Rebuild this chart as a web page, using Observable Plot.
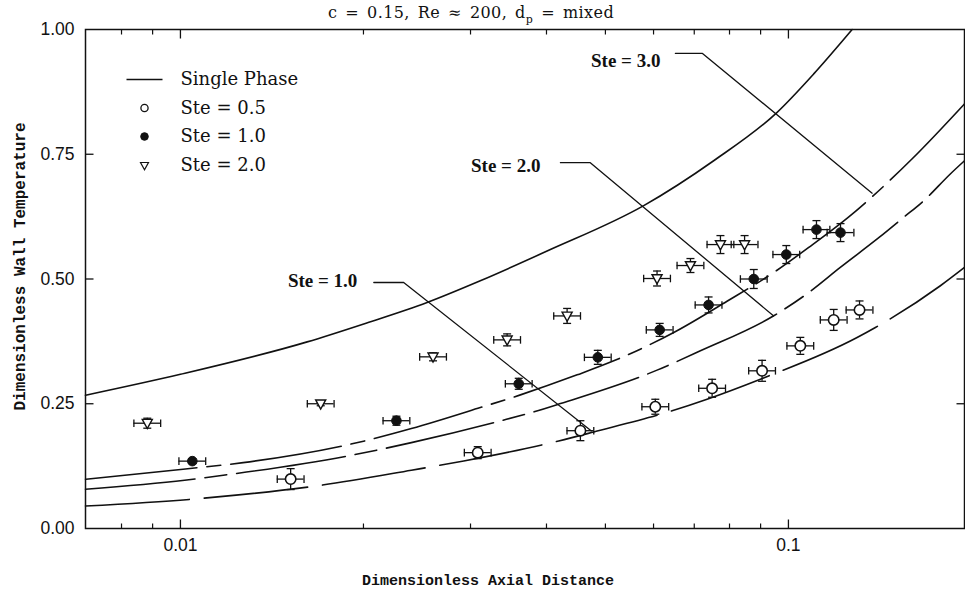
<!DOCTYPE html>
<html>
<head>
<meta charset="utf-8">
<script src="https://cdn.jsdelivr.net/npm/d3@7"></script>
<script src="https://cdn.jsdelivr.net/npm/@observablehq/plot@0.6"></script>
<style>
  html, body { margin: 0; padding: 0; background: #fff; }
  #chart svg { display: block; }
</style>
</head>
<body>
<div id="chart"></div>
<script>
// ---- Predicted wall temperature curves ----
const singlePhaseX = [0.00698, 0.01, 0.01616, 0.02002, 0.02545, 0.03113, 0.04009, 0.05781, 0.07534, 0.09581, 0.11006, 0.1273];
const singlePhaseY = [0.267, 0.309, 0.374, 0.41, 0.453, 0.4965, 0.556, 0.647, 0.737, 0.834, 0.911, 1.0];

const ste30X = [0.00698, 0.0101, 0.01268, 0.02009, 0.02398, 0.03113, 0.03624, 0.04493, 0.0516, 0.06477, 0.07925, 0.09459, 0.108, 0.1254, 0.1598, 0.1948];
const ste30Y = [0.0987, 0.1188, 0.132, 0.1755, 0.2002, 0.2423, 0.2678, 0.3079, 0.336, 0.3928, 0.4554, 0.5131, 0.5633, 0.6235, 0.741, 0.851];

const ste20X = [0.00698, 0.01016, 0.01176, 0.01923, 0.02398, 0.0336, 0.03813, 0.04217, 0.06081, 0.07165, 0.09459, 0.108, 0.1217, 0.1408, 0.1547, 0.167, 0.1846, 0.1948];
const ste20Y = [0.0786, 0.0967, 0.1067, 0.1474, 0.1721, 0.2156, 0.2337, 0.2503, 0.3174, 0.3561, 0.4263, 0.473, 0.5232, 0.5827, 0.6235, 0.657, 0.7105, 0.737];

const ste10X = [0.00698, 0.01042, 0.01117, 0.01674, 0.02398, 0.02924, 0.0419, 0.04784, 0.06437, 0.07348, 0.08993, 0.1297, 0.139, 0.1778, 0.1948];
const ste10Y = [0.0451, 0.0586, 0.0618, 0.0853, 0.1168, 0.1354, 0.1755, 0.1935, 0.236, 0.2592, 0.2993, 0.3827, 0.4028, 0.4865, 0.5232];

// ---- Measurements (value and vertical uncertainty) ----
const dataSte05X = [0.01518, 0.03083, 0.04548, 0.0604, 0.0749, 0.0905, 0.1046, 0.1187, 0.1309];
const dataSte05Y = [0.099, 0.152, 0.196, 0.244, 0.281, 0.316, 0.366, 0.418, 0.438];
const dataSte05Err = [0.021, 0.012, 0.02, 0.015, 0.018, 0.021, 0.017, 0.021, 0.018];

const dataSte10X = [0.01046, 0.02266, 0.03601, 0.04858, 0.06141, 0.0739, 0.0877, 0.0992, 0.1112, 0.1218];
const dataSte10Y = [0.135, 0.216, 0.29, 0.343, 0.398, 0.448, 0.5, 0.549, 0.599, 0.593];
const dataSte10Err = [0.005, 0.009, 0.011, 0.014, 0.013, 0.016, 0.019, 0.018, 0.018, 0.018];

const dataSte20X = [0.00882, 0.01701, 0.02603, 0.03446, 0.04325, 0.0608, 0.069, 0.0773, 0.0847];
const dataSte20Y = [0.211, 0.25, 0.344, 0.378, 0.426, 0.501, 0.527, 0.569, 0.569];
const dataSte20Err = [0.01, 0.004, 0.008, 0.012, 0.015, 0.015, 0.014, 0.018, 0.018];

// relative uncertainty of the axial distance (multiplicative, symmetric in log space)
const xErrFactor = 1.052;

// ---- Curve labels with leader lines ----
const annotationLabels = ["Ste = 1.0", "Ste = 2.0", "Ste = 3.0"];
const annotationTextX = [0.01954, 0.03909, 0.06158];
const annotationTextY = [0.4965, 0.726, 0.937];
const leaderStartX = [0.0208, 0.04217, 0.06518];
const leaderBendX = [0.02329, 0.04722, 0.07222];
const leaderLevelY = [0.493, 0.7332, 0.952];
const leaderTargetX = [0.04742, 0.09447, 0.1373];
const leaderTargetY = [0.1956, 0.4263, 0.672];

// ---- Axes ----
const xMajorTicks = [0.01, 0.1];
const xMajorLabels = ["0.01", "0.1"];
const xMinorTicks = [0.008, 0.009, 0.02, 0.03, 0.04, 0.05, 0.06, 0.07, 0.08, 0.09];
const yTicks = [0, 0.25, 0.5, 0.75, 1];
const yTickLabels = ["0.00", "0.25", "0.50", "0.75", "1.00"];
const yInnerTicks = [0.25, 0.5, 0.75];

const titleMain = "c = 0.15, Re \u2248 200, d";
const titleSub = "p";
const titleTail = " = mixed";
const xTitle = "Dimensionless Axial Distance";
const yTitle = "Dimensionless Wall Temperature";
const legendLabels = ["Single Phase", "Ste = 0.5", "Ste = 1.0", "Ste = 2.0"];

// ---- Tables ----
const rows = (xs, ys) => xs.map((x, i) => ({x, y: ys[i]}));
const pts = (xs, ys, es) => xs.map((x, i) => ({x, y: ys[i], e: es[i]}));
const pts05 = pts(dataSte05X, dataSte05Y, dataSte05Err);
const pts10 = pts(dataSte10X, dataSte10Y, dataSte10Err);
const pts20 = pts(dataSte20X, dataSte20Y, dataSte20Err);
const allPts = [...pts05, ...pts10, ...pts20];

const annotations = annotationLabels.map((label, i) => ({label, x: annotationTextX[i], y: annotationTextY[i]}));
const leaders = annotationLabels.flatMap((label, i) => [
  {label, x: leaderStartX[i], y: leaderLevelY[i]},
  {label, x: leaderBendX[i], y: leaderLevelY[i]},
  {label, x: leaderTargetX[i], y: leaderTargetY[i]}
]);

// ---- Custom symbols (size = PI r^2) ----
const seg = (x1, y1, x2, y2) => ({
  draw(ctx, size) {
    const r = Math.sqrt(size / Math.PI);
    ctx.moveTo(x1 * r, y1 * r);
    ctx.lineTo(x2 * r, y2 * r);
  }
});
const tickUp = seg(0, 0, 0, -1);
const tickDown = seg(0, 0, 0, 1);
const tickRight = seg(0, 0, 1, 0);
const tickLeft = seg(0, 0, -1, 0);
const capV = seg(0, -1, 0, 1);
const capH = seg(-1, 0, 1, 0);
const triangleDown = {
  draw(ctx, size) {
    const r = Math.sqrt(size / Math.PI);
    ctx.moveTo(0, r);
    ctx.lineTo(-0.95 * r, -0.72 * r);
    ctx.lineTo(0.95 * r, -0.72 * r);
    ctx.closePath();
  }
};

const ink = "#111";
const curveStyle = {x: "x", y: "y", stroke: ink, strokeWidth: 1.6, curve: "monotone-x"};
const barStyle = {stroke: ink, strokeWidth: 1.3};
const serif = "DejaVu Serif";

const legendRowDy = [50, 78.5, 107, 136];
const legendSymbols = [
  {symbol: capH, r: 18, fill: "none", stroke: ink, strokeWidth: 1.3},
  {symbol: "circle", r: 3.6, fill: "#fff", stroke: ink, strokeWidth: 1.3},
  {symbol: "circle", r: 3.8, fill: ink, stroke: ink, strokeWidth: 1},
  {symbol: triangleDown, r: 4.2, fill: "#fff", stroke: ink, strokeWidth: 1.2}
];

const chart = Plot.plot({
  width: 965,
  height: 594,
  marginLeft: 85,
  marginRight: 1,
  marginTop: 29,
  marginBottom: 66,
  x: {type: "log", domain: [0.00698, 0.1948], axis: null},
  y: {domain: [0, 1], axis: null},
  style: {background: "#fff", color: ink, fontFamily: "Liberation Sans", overflow: "visible"},
  marks: [
    // predicted curves
    Plot.line(rows(singlePhaseX, singlePhaseY), curveStyle),
    Plot.line(rows(ste30X, ste30Y), {...curveStyle, strokeDasharray: "112,10,14,10"}),
    Plot.line(rows(ste20X, ste20Y), {...curveStyle, strokeDasharray: "110,10,22,10"}),
    Plot.line(rows(ste10X, ste10Y), {...curveStyle, strokeDasharray: "104,15"}),

    // leader lines for the curve labels
    Plot.line(leaders, {x: "x", y: "y", z: "label", stroke: ink, strokeWidth: 1.3}),
    Plot.text(annotations, {x: "x", y: "y", text: "label", textAnchor: "end", lineAnchor: "middle",
      fontFamily: "Liberation Serif", fontWeight: "bold", fontSize: 19, fill: ink}),

    // error bars
    Plot.ruleY(allPts, {y: "y", x1: d => d.x / xErrFactor, x2: d => d.x * xErrFactor, ...barStyle}),
    Plot.ruleX(allPts, {x: "x", y1: d => d.y - d.e, y2: d => d.y + d.e, ...barStyle}),
    Plot.dot(allPts, {x: d => d.x / xErrFactor, y: "y", symbol: capV, r: 3.8, fill: "none", ...barStyle}),
    Plot.dot(allPts, {x: d => d.x * xErrFactor, y: "y", symbol: capV, r: 3.8, fill: "none", ...barStyle}),
    Plot.dot(allPts, {x: "x", y: d => d.y - d.e, symbol: capH, r: 4, fill: "none", ...barStyle}),
    Plot.dot(allPts, {x: "x", y: d => d.y + d.e, symbol: capH, r: 4, fill: "none", ...barStyle}),

    // measurements
    Plot.dot(pts05, {x: "x", y: "y", symbol: "circle", r: 5.2, fill: "#fff", stroke: ink, strokeWidth: 1.6}),
    Plot.dot(pts10, {x: "x", y: "y", symbol: "circle", r: 4.8, fill: ink, stroke: ink, strokeWidth: 1}),
    Plot.dot(pts20, {x: "x", y: "y", symbol: triangleDown, r: 5.3, fill: "#fff", stroke: ink, strokeWidth: 1.4}),

    // legend
    ...legendLabels.flatMap((label, i) => [
      Plot.dot([label], {frameAnchor: "top-left", dx: 59, dy: legendRowDy[i], ...legendSymbols[i]}),
      Plot.text([label], {frameAnchor: "top-left", dx: 95, dy: legendRowDy[i], text: d => d,
        textAnchor: "start", lineAnchor: "middle", fontFamily: serif, fontSize: 18, fill: ink})
    ]),

    // frame and ticks
    Plot.frame({stroke: ink, strokeWidth: 1.5}),
    Plot.dot(xMajorTicks, {x: d => d, frameAnchor: "bottom", symbol: tickUp, r: 9, fill: "none", stroke: ink, strokeWidth: 1.3}),
    Plot.dot(xMinorTicks, {x: d => d, frameAnchor: "bottom", symbol: tickUp, r: 5, fill: "none", stroke: ink, strokeWidth: 1.2}),
    Plot.dot(xMajorTicks, {x: d => d, frameAnchor: "top", symbol: tickDown, r: 9, fill: "none", stroke: ink, strokeWidth: 1.3}),
    Plot.dot(xMinorTicks, {x: d => d, frameAnchor: "top", symbol: tickDown, r: 5, fill: "none", stroke: ink, strokeWidth: 1.2}),
    Plot.dot(yInnerTicks, {y: d => d, frameAnchor: "left", symbol: tickRight, r: 8, fill: "none", stroke: ink, strokeWidth: 1.3}),
    Plot.dot(yInnerTicks, {y: d => d, frameAnchor: "right", symbol: tickLeft, r: 8, fill: "none", stroke: ink, strokeWidth: 1.3}),

    // tick labels
    Plot.text(xMajorTicks, {x: d => d, text: (d, i) => xMajorLabels[i], frameAnchor: "bottom", dy: 17,
      lineAnchor: "middle", fontFamily: "Liberation Sans", fontSize: 17.5, fill: ink}),
    Plot.text(yTicks, {y: d => d, text: (d, i) => yTickLabels[i], frameAnchor: "left", dx: -11,
      textAnchor: "end", lineAnchor: "middle", fontFamily: "Liberation Sans", fontSize: 17.5, fill: ink}),

    // axis titles and heading
    Plot.text([xTitle], {frameAnchor: "bottom", dx: -37, dy: 52, text: d => d, textAnchor: "middle", lineAnchor: "middle",
      fontFamily: "Liberation Mono", fontWeight: "bold", fontSize: 15, fill: ink}),
    Plot.text([yTitle], {frameAnchor: "left", dx: -66, dy: -12.5, rotate: -90, text: d => d,
      textAnchor: "middle", lineAnchor: "middle",
      fontFamily: "Liberation Mono", fontWeight: "bold", fontSize: 16, fill: ink}),
    Plot.text([titleMain + titleSub + titleTail], {frameAnchor: "top", dx: -54, dy: -17, text: d => d,
      textAnchor: "middle", lineAnchor: "middle", fontFamily: serif, fontSize: 16, fill: ink})
  ]
});

// heading: set the subscript on "d"
const NS = "http://www.w3.org/2000/svg";
const heading = Array.from(chart.querySelectorAll("text")).find(t => t.textContent === titleMain + titleSub + titleTail);
if (heading) {
  heading.textContent = "";
  heading.setAttribute("letter-spacing", "0.4");
  heading.setAttribute("word-spacing", "2.5");
  const parts = [[titleMain, null, null], [titleSub, 5, 11], [titleTail, -5, null]];
  for (const [txt, dy, fs] of parts) {
    const ts = document.createElementNS(NS, "tspan");
    ts.textContent = txt;
    if (dy != null) ts.setAttribute("dy", dy);
    if (fs != null) ts.setAttribute("font-size", fs);
    heading.appendChild(ts);
  }
}

document.getElementById("chart").appendChild(chart);
</script>
</body>
</html>
